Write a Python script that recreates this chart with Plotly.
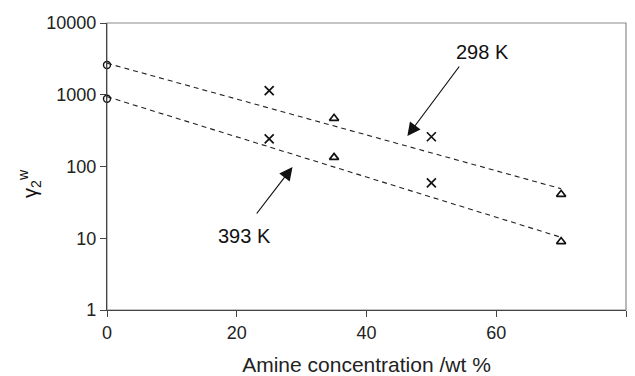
import numpy as np
import plotly.graph_objects as go

# Data
x_circle = [0, 0]
y_circle = [2600, 880]
x_cross = [25, 25, 50, 50]
y_cross = [1140, 242, 260, 59]
x_tri = [35, 35, 70, 70]
y_tri = [470, 134, 41, 9.0]

trend_x = [0, 70]
trend_298 = [2750, 49]
trend_393 = [940, 10.3]

x_ticks = [0, 20, 40, 60, 80]
y_ticks = [1, 10, 100, 1000, 10000]
y_ticktext = ["1", "10", "100", "1000", "10000"]

FONT = "Liberation Sans, Arial, sans-serif"
BLACK = "#111111"

fig = go.Figure()

for ty in (trend_298, trend_393):
    fig.add_trace(go.Scatter(x=trend_x, y=ty, mode="lines",
                             line=dict(color="#222222", width=1.1, dash="5px,4px"),
                             showlegend=False, hoverinfo="skip"))

fig.add_trace(go.Scatter(x=x_circle, y=y_circle, mode="markers", cliponaxis=False,
                         marker=dict(symbol="circle-open", size=7,
                                     line=dict(color=BLACK, width=1.4), color=BLACK),
                         showlegend=False))
fig.add_trace(go.Scatter(x=x_cross, y=y_cross, mode="markers",
                         marker=dict(symbol="x-thin-open", size=9,
                                     line=dict(color=BLACK, width=1.7), color=BLACK),
                         showlegend=False))
fig.add_trace(go.Scatter(x=x_tri, y=y_tri, mode="markers",
                         marker=dict(symbol="triangle-up-open", size=8,
                                     line=dict(color=BLACK, width=1.7), color=BLACK),
                         showlegend=False))

# Labels and arrows
fig.add_annotation(x=57.9, y=3.596, text="298 K", showarrow=False,
                   xanchor="center", yanchor="middle",
                   font=dict(family=FONT, size=20, color=BLACK))
fig.add_annotation(x=21.2, y=1.031, text="393 K", showarrow=False,
                   xanchor="center", yanchor="middle",
                   font=dict(family=FONT, size=20, color=BLACK))
fig.add_annotation(x=46.3, y=np.log10(266), text="", showarrow=True,
                   ax=53, ay=-71, arrowhead=2, arrowsize=2.2, arrowwidth=1.2,
                   arrowcolor=BLACK)
fig.add_annotation(x=28.6, y=np.log10(98.4), text="", showarrow=True,
                   ax=-37, ay=48, arrowhead=2, arrowsize=2.2, arrowwidth=1.2,
                   arrowcolor=BLACK)

# y-axis title
fig.add_annotation(xref="paper", yref="paper", x=-0.148, y=0.44,
                   xanchor="center", yanchor="middle",
                   text="γ<sub>2</sub><sup>w</sup>", textangle=-90, showarrow=False,
                   font=dict(family=FONT, size=20, color=BLACK))

# frame (top/right border in lighter gray)
fig.add_shape(type="rect", xref="paper", yref="paper", x0=0, y0=0, x1=1, y1=1,
              line=dict(color="#8a8a8a", width=1.2), layer="below")

fig.update_xaxes(range=[0, 80], tickvals=x_ticks, ticks="outside", ticklen=6,
                 tickcolor="#444444", showline=True, linecolor="#444444", linewidth=1.3,
                 showgrid=False, zeroline=False, automargin=False,
                 tickfont=dict(family=FONT, size=18, color="#222222"),
                 title=dict(text="Amine concentration /wt %",
                            font=dict(family=FONT, size=21, color="#222222"), standoff=16))
fig.update_yaxes(type="log", range=[0, 4], tickvals=y_ticks, ticktext=y_ticktext,
                 ticks="outside", ticklen=6, tickcolor="#444444",
                 showline=True, linecolor="#444444", linewidth=1.3,
                 showgrid=False, zeroline=False, automargin=False,
                 tickfont=dict(family=FONT, size=18, color="#222222"))

fig.update_layout(width=635, height=376, margin=dict(l=107, r=9, t=23, b=66),
                  plot_bgcolor="white", paper_bgcolor="white")

fig.write_html("out.html", config={"displayModeBar": False},
               post_script="document.body.style.margin='0';document.body.style.overflow='hidden';")
